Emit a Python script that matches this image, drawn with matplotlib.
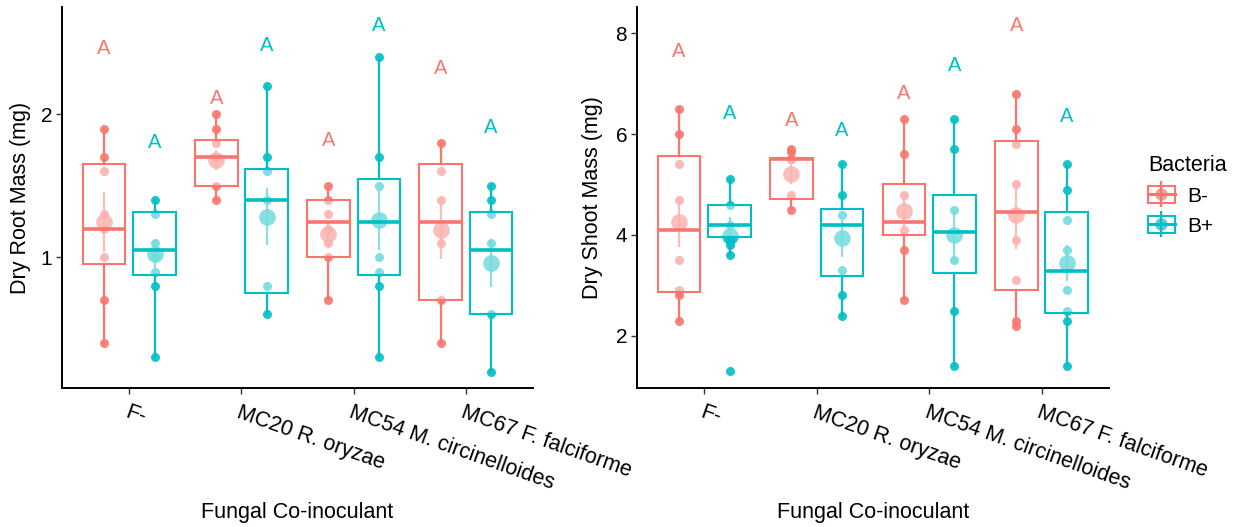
import numpy as np
import matplotlib.pyplot as plt
from matplotlib.lines import Line2D
from matplotlib.patches import Patch
from matplotlib.legend_handler import HandlerTuple

plt.rcParams['font.family'] = ['Liberation Sans', 'DejaVu Sans']

fungi = ["F-", "MC20 R. oryzae", "MC54 M. circinelloides", "MC67 F. falciforme"]
bacteria = ["B-", "B+"]
colors = ["#F8766D", "#00BFC4"]

# dry root mass, individual plants
root_pts_bm = [[1.9, 1.7, 1.6, 1.3, 1.2, 1.0, 0.7, 0.4],
               [2.0, 1.9, 1.8, 1.7, 1.7, 1.5, 1.4],
               [1.5, 1.4, 1.3, 1.2, 1.1, 1.0, 0.7],
               [1.8, 1.6, 1.4, 1.1, 0.7, 0.4]]
root_pts_bp = [[1.4, 1.3, 1.1, 1.0, 0.9, 0.8, 0.3],
               [2.2, 1.7, 1.6, 1.4, 0.8, 0.6],
               [2.4, 1.7, 1.5, 1.0, 0.9, 0.8, 0.3],
               [1.5, 1.4, 1.3, 1.1, 0.6, 0.2]]
# box: whisker low, q1, median, q3, whisker high
root_box_bm = [(0.4, 0.95, 1.2, 1.65, 1.9), (1.4, 1.5, 1.7, 1.82, 2.0),
               (0.7, 1.0, 1.25, 1.4, 1.5), (0.4, 0.7, 1.25, 1.65, 1.8)]
root_box_bp = [(0.3, 0.875, 1.05, 1.32, 1.4), (0.6, 0.75, 1.4, 1.62, 2.2),
               (0.3, 0.875, 1.25, 1.545, 2.4), (0.2, 0.6, 1.05, 1.32, 1.5)]
root_mean_bm = [1.245, 1.68, 1.16, 1.19]
root_se_bm = [0.21, 0.07, 0.09, 0.2]
root_mean_bp = [1.02, 1.285, 1.26, 0.96]
root_se_bp = [0.1, 0.2, 0.21, 0.17]
root_letter_bm = [2.46, 2.11, 1.82, 2.32]
root_letter_bp = [1.80, 2.48, 2.62, 1.91]

# dry shoot mass
shoot_pts_bm = [[6.5, 6.0, 5.4, 4.7, 3.5, 2.9, 2.8, 2.3],
                [5.7, 5.65, 5.5, 5.5, 4.8, 4.5],
                [6.3, 5.6, 4.8, 4.1, 3.7, 2.7],
                [6.8, 6.1, 5.8, 5.0, 3.9, 3.1, 2.3, 2.2]]
shoot_pts_bp = [[5.1, 4.6, 4.2, 3.9, 3.8, 3.6, 1.3],
                [5.4, 4.8, 4.4, 3.3, 2.8, 2.4],
                [6.3, 5.7, 4.5, 3.5, 2.5, 1.4],
                [5.4, 4.9, 4.3, 3.7, 2.9, 2.5, 2.3, 1.4]]
shoot_box_bm = [(2.3, 2.87, 4.1, 5.57, 6.5), (4.5, 4.72, 5.5, 5.52, 5.7),
                (2.7, 4.0, 4.26, 5.0, 6.3), (2.2, 2.9, 4.45, 5.87, 6.8)]
shoot_box_bp = [(3.6, 3.95, 4.2, 4.6, 5.1), (2.4, 3.19, 4.2, 4.51, 5.4),
                (1.4, 3.24, 4.05, 4.79, 6.3), (1.4, 2.45, 3.29, 4.45, 5.4)]
shoot_mean_bm = [4.26, 5.2, 4.48, 4.4]
shoot_se_bm = [0.5, 0.2, 0.35, 0.67]
shoot_mean_bp = [3.97, 3.93, 4.0, 3.44]
shoot_se_bp = [0.38, 0.36, 0.5, 0.35]
shoot_letter_bm = [7.64, 6.27, 6.80, 8.16]
shoot_letter_bp = [6.41, 6.08, 7.35, 6.35]


def panel(ax, pts, boxes, means, ses, letters, ylabel, ylim, yticks):
    x = np.arange(1, len(fungi) + 1)
    for j in range(2):
        c = colors[j]
        pos = x + (-0.225 if j == 0 else 0.225)
        for i in range(len(fungi)):
            ax.plot(np.full(len(pts[j][i]), pos[i]), pts[j][i], 'o', color=c,
                    ms=6.5, mec='none', alpha=0.9, zorder=2)
            ax.errorbar(pos[i], means[j][i], yerr=ses[j][i], fmt='o', color=c,
                        ms=12, mec='none', elinewidth=1.6, capsize=0, alpha=0.85, zorder=2.5)
            ax.text(pos[i], letters[j][i], "A", color=c, ha='center', va='center', fontsize=14.5)
        stats = [dict(whislo=b[0], q1=b[1], med=b[2], q3=b[3], whishi=b[4]) for b in boxes[j]]
        ax.bxp(stats, positions=pos, widths=0.38, showfliers=False, showcaps=False,
               patch_artist=True, zorder=3,
               boxprops=dict(facecolor=(1, 1, 1, 0.45), edgecolor=c, linewidth=1.5),
               whiskerprops=dict(color=c, linewidth=1.6),
               medianprops=dict(color=c, linewidth=2.6))
    ax.set_xlim(0.4, 4.6)
    ax.set_ylim(*ylim)
    ax.set_yticks(yticks)
    ax.set_xticks(x)
    ax.set_xticklabels(fungi, rotation=-19.5, ha='left', va='top', rotation_mode='anchor', fontsize=15.5)
    ax.tick_params(axis='y', labelsize=15, length=4, width=1, color='#333333', pad=3)
    ax.tick_params(axis='x', length=4, width=1, color='#333333', pad=6)
    for s in ['top', 'right']:
        ax.spines[s].set_visible(False)
    for s in ['left', 'bottom']:
        ax.spines[s].set_linewidth(1.4)
    ax.set_ylabel(ylabel, fontsize=15.5)
    ax.set_xlabel("Fungal Co-inoculant", fontsize=15.5)
    ax.xaxis.set_label_coords(0.5, -0.30)


fig = plt.figure(figsize=(12.38, 5.27), dpi=100)
ax1 = fig.add_axes([0.0501, 0.2638, 0.3805, 0.7229])
ax2 = fig.add_axes([0.5145, 0.2638, 0.3813, 0.7229])

panel(ax1, [root_pts_bm, root_pts_bp], [root_box_bm, root_box_bp],
      [root_mean_bm, root_mean_bp], [root_se_bm, root_se_bp],
      [root_letter_bm, root_letter_bp], "Dry Root Mass (mg)", (0.086, 2.75), [1, 2])
ax1.yaxis.set_label_coords(-0.066, 0.5)
panel(ax2, [shoot_pts_bm, shoot_pts_bp], [shoot_box_bm, shoot_box_bp],
      [shoot_mean_bm, shoot_mean_bp], [shoot_se_bm, shoot_se_bp],
      [shoot_letter_bm, shoot_letter_bp], "Dry Shoot Mass (mg)", (0.964, 8.52), [2, 4, 6, 8])
ax2.yaxis.set_label_coords(-0.072, 0.5)

handles = []
for c in colors:
    handles.append((Patch(facecolor='white', edgecolor=c, linewidth=1.5),
                    Line2D([], [], color=c, lw=2.2),
                    Line2D([], [], marker='|', color=c, ms=19, mew=1.6, ls='none'),
                    Line2D([], [], marker='o', color=c, ms=9, mec='none', alpha=0.7, ls='none')))
fig.legend(handles, bacteria, title="Bacteria", loc='upper left',
           bbox_to_anchor=(1129 / 1238, 1 - 136 / 527), frameon=False, fontsize=15,
           title_fontsize=15.5, handler_map={tuple: HandlerTuple(ndivide=1)},
           handlelength=1.3, handleheight=0.85, handletextpad=0.6, labelspacing=0.5,
           alignment='left')

fig.savefig("out.png", dpi=100)
